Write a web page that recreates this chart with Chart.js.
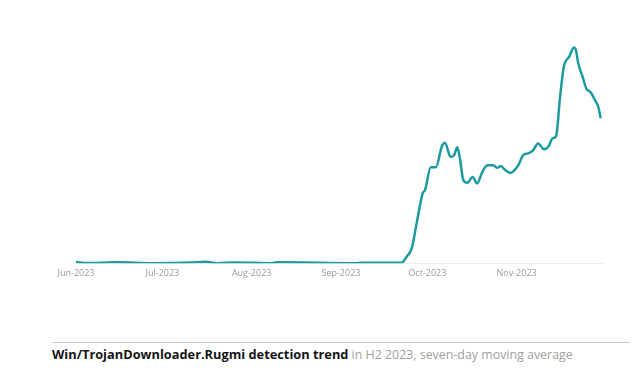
<!DOCTYPE html>
<html>
<head>
    <title>Win/TrojanDownloader.Rugmi detection trend</title>
    <style>
        body {
            margin: 0;
            background: #ffffff;
            font-family: 'Open Sans', sans-serif;
        }
        #wrap {
            position: relative;
            width: 644px;
            height: 377px;
        }
        #chart-box {
            position: absolute;
            left: 0;
            top: 0;
            width: 644px;
            height: 284px;
        }
        #rule {
            position: absolute;
            left: 52px;
            top: 342px;
            width: 578px;
            height: 0;
            border-top: 1px solid #c8c8c8;
        }
        #caption {
            position: absolute;
            left: 52px;
            top: 345px;
            font-size: 12.4px;
            color: #a0a0a0;
            white-space: nowrap;
        }
        #caption b {
            color: #141414;
            font-size: 12.8px;
        }
    </style>
    <script src="https://cdn.jsdelivr.net/npm/chart.js"></script>
</head>
<body>
<div id="wrap">
    <div id="chart-box"><canvas id="trendChart"></canvas></div>
    <div id="rule"></div>
    <div id="caption"><b>Win/TrojanDownloader.Rugmi detection trend</b> in H2 2023, seven-day moving average</div>
</div>
<script>
    // days counted from 1 Jun 2023 (relative detection index)
    const days = [0, 4, 14, 27, 40, 45, 49, 55, 68, 70, 97, 99, 113,
        114.8, 116.6, 118.3, 120.4, 121.2, 123.2, 125, 127, 128.1, 130.1, 131.3, 132.4, 133.3,
        134.5, 135.9, 137.7, 139.3, 140.9, 142.8, 144.9, 146.3, 147.5, 149, 150.9, 152.1, 153.6,
        155.3, 157, 158.8, 160.5, 162.5, 164, 165.5, 166.7, 168.1, 169.4, 171.3, 172.9, 173.6,
        174.4, 175.9, 177.3, 178.5, 180.2, 181.4, 182.2];
    const detections = [0.5, 0.1, 0.4, 0.0, 0.3, 0.7, 0.0, 0.3, 0.0, 0.4, 0.0, 0.2, 0.2,
        2.9, 6.8, 18.2, 31.8, 33.2, 43.6, 43.6, 52.9, 54.7, 48.3, 49.1, 52.6, 47.7,
        37.7, 36.5, 39.2, 36.2, 40.8, 44.5, 44.5, 43.3, 44.1, 42.3, 41.0, 42.0, 44.5,
        49.1, 49.9, 51.4, 54.4, 51.7, 52.9, 56.7, 57.7, 75.6, 89.2, 93.8, 98.0, 96.8,
        90.8, 84.7, 79.0, 77.9, 74.1, 70.8, 65.8];
    const monthTicks = [0, 30, 61, 92, 122, 153];
    const monthLabels = ['Jun-2023', 'Jul-2023', 'Aug-2023', 'Sep-2023', 'Oct-2023', 'Nov-2023'];

    const points = days.map((d, i) => ({ x: d, y: detections[i] }));

    new Chart(document.getElementById('trendChart'), {
        type: 'line',
        data: {
            datasets: [{
                label: 'Win/TrojanDownloader.Rugmi',
                data: points,
                borderColor: '#1b9aa2',
                borderWidth: 2.5,
                pointRadius: 0,
                fill: false,
                cubicInterpolationMode: 'monotone'
            }]
        },
        options: {
            responsive: true,
            maintainAspectRatio: false,
            animation: false,
            layout: {
                padding: { left: 76, right: 41, top: 43, bottom: 0 }
            },
            plugins: {
                legend: { display: false },
                tooltip: { enabled: false }
            },
            scales: {
                x: {
                    type: 'linear',
                    min: 0,
                    max: 183,
                    afterBuildTicks: function(axis) {
                        axis.ticks = monthTicks.map(v => ({ value: v }));
                    },
                    ticks: {
                        autoSkip: false,
                        maxRotation: 0,
                        padding: 5,
                        color: '#9a9a9a',
                        font: { family: 'Open Sans', size: 9 },
                        callback: function(value) {
                            const i = monthTicks.indexOf(value);
                            return i >= 0 ? monthLabels[i] : '';
                        }
                    },
                    grid: { display: true, drawOnChartArea: false, drawTicks: false, tickLength: 0 },
                    border: { display: true, color: '#ececec', width: 1 }
                },
                y: {
                    display: false,
                    min: 0,
                    max: 100
                }
            }
        }
    });
</script>
</body>
</html>
